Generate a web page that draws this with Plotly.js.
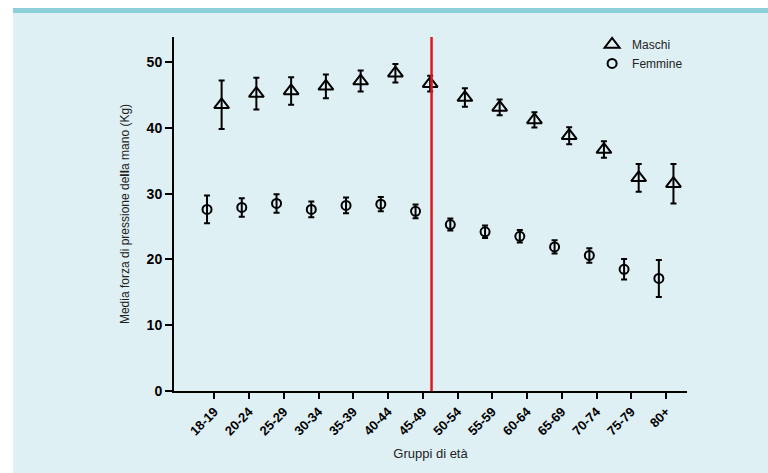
<!DOCTYPE html>
<html>
<head>
<meta charset="utf-8">
<script src="https://cdn.plot.ly/plotly-3.0.1.min.js"></script>
<style>
html,body{margin:0;padding:0;background:#ffffff;}
#chart{width:768px;height:473px;}
</style>
</head>
<body>
<div id="chart"></div>
<script>
var categories = ["18-19","20-24","25-29","30-34","35-39","40-44","45-49","50-54","55-59","60-64","65-69","70-74","75-79","80+"];
var maschiMean = [43.5,45.2,45.6,46.3,47.1,48.3,46.7,44.6,43.1,41.2,38.8,36.7,32.4,31.5];
var maschiErr  = [3.7,2.4,2.1,1.8,1.6,1.4,1.2,1.4,1.2,1.15,1.3,1.25,2.1,3.0];
var femmineMean = [27.6,27.9,28.5,27.6,28.2,28.4,27.3,25.3,24.2,23.5,21.9,20.6,18.5,17.1];
var femmineErr  = [2.1,1.4,1.4,1.2,1.2,1.1,1.05,0.9,0.95,0.95,1.0,1.1,1.55,2.8];
var dividerCategory = "45-49";

var idx = categories.map(function(c,i){return i;});
var off = 0.21;
var xM = idx.map(function(i){return i+off;});
var xF = idx.map(function(i){return i-off;});

var font = "Liberation Sans, Arial, Helvetica, sans-serif";

var traces = [
  {
    type:"scatter", mode:"markers", name:"Maschi",
    x:xM, y:maschiMean,
    marker:{symbol:"triangle-up-open", size:13, color:"#000", line:{width:2,color:"#000"}},
    error_y:{type:"data", array:maschiErr, visible:true, color:"#000", thickness:2, width:3},
    hoverinfo:"y"
  },
  {
    type:"scatter", mode:"markers", name:"Femmine",
    x:xF, y:femmineMean,
    marker:{symbol:"circle-open", size:9, color:"#000", line:{width:2,color:"#000"}},
    error_y:{type:"data", array:femmineErr, visible:true, color:"#000", thickness:2, width:3},
    hoverinfo:"y"
  }
];

var divX = categories.indexOf(dividerCategory) + 0.25;

var layout = {
  width:768, height:473,
  margin:{l:174, r:81, t:37, b:82},
  paper_bgcolor:"#ffffff",
  plot_bgcolor:"rgba(0,0,0,0)",
  font:{family:font, size:11, color:"#000"},
  showlegend:true,
  legend:{x:0.815, y:1.02, xanchor:"left", yanchor:"top", bgcolor:"rgba(0,0,0,0)", font:{family:font, size:12, color:"#222"}, itemwidth:30, tracegroupgap:0},
  xaxis:{
    range:[-1.16, 13.6],
    tickvals:idx, ticktext:categories,
    tickangle:-45,
    showline:true, linecolor:"#000", linewidth:2,
    ticks:"outside", ticklen:6, tickwidth:2, tickcolor:"#000",
    showgrid:false, zeroline:false,
    tickfont:{family:font, size:13, color:"#000", weight:"bold"},
    title:{text:"Gruppi di età", font:{family:font, size:13, color:"#222"}, standoff:12}
  },
  yaxis:{
    range:[0, 53.8],
    tickvals:[0,10,20,30,40,50],
    showline:true, linecolor:"#000", linewidth:2,
    ticks:"outside", ticklen:7, tickwidth:2, tickcolor:"#000",
    showgrid:false, zeroline:false,
    tickfont:{family:font, size:14, color:"#000", weight:"bold"},
    title:{text:"Media forza di pressione de<b>ll</b>a mano (Kg)", font:{family:font, size:12, color:"#222"}, standoff:14}
  },
  shapes:[
    {type:"rect", xref:"paper", yref:"paper", x0:-0.3138, x1:1.16, y0:-0.24, y1:1.0819, fillcolor:"#dff0f5", line:{width:0}, layer:"below"},
    {type:"rect", xref:"paper", yref:"paper", x0:-0.3138, x1:1.16, y0:1.0678, y1:1.0819, fillcolor:"#8dcfd8", line:{width:0}, layer:"below"},
    {type:"line", xref:"x", yref:"paper", x0:divX, x1:divX, y0:0, y1:1, line:{color:"#e3161e", width:2.5}}
  ]
};

Plotly.newPlot("chart", traces, layout, {displayModeBar:false, staticPlot:true});
</script>
</body>
</html>
